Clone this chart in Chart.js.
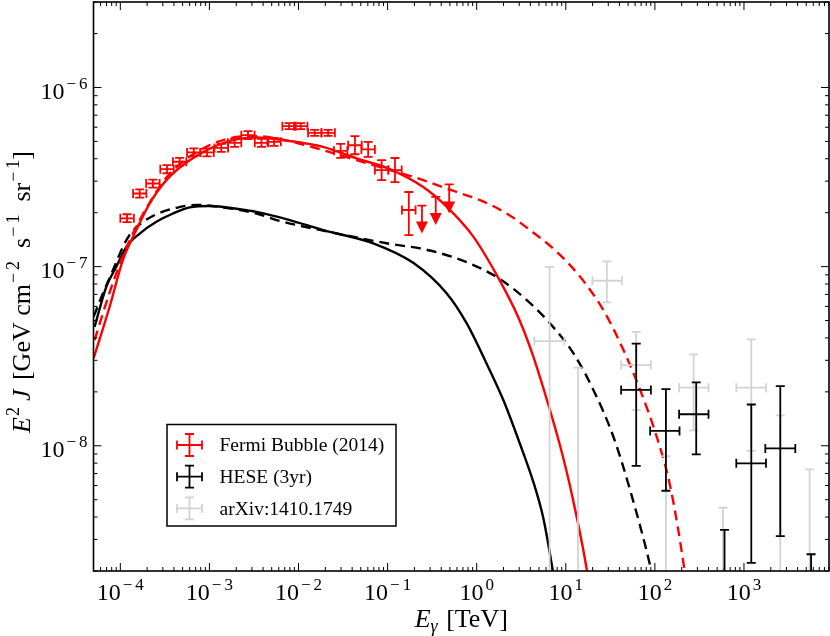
<!DOCTYPE html>
<html>
<head>
<meta charset="utf-8">
<script src="https://cdn.jsdelivr.net/npm/chart.js@4.4.0/dist/chart.umd.min.js"></script>
<style>
  html, body { margin: 0; padding: 0; background: #fff; }
  #wrap { width: 830px; height: 636px; position: relative; }
</style>
</head>
<body>
<div id="wrap"><canvas id="chart"></canvas></div>
<script>
// axis ranges and tick labels
const xRange = [5e-5, 9e3];
const yRange = [2e-9, 3e-6];
const xTickValues = [1e-4, 1e-3, 1e-2, 1e-1, 1e0, 1e1, 1e2, 1e3];
const xTickExps = ['-4', '-3', '-2', '-1', '0', '1', '2', '3'];
const yTickValues = [1e-8, 1e-7, 1e-6];
const yTickExps = ['-8', '-7', '-6'];

// model curves
const redSolidE = [5.01e-5, 7.59e-5, 1.07e-4, 1.51e-4, 2.13e-4, 3.29e-4, 6.01e-4, 1.69e-3, 3.37e-3, 7.98e-3, 1.89e-2, 4.49e-2, 0.106, 0.251, 0.460, 0.916, 1.73, 2.91, 4.18, 6.32, 8.63, 11.2, 17.3, 19.2];
const redSolidF = [3.08e-8, 5.97e-8, 1.09e-7, 1.60e-7, 2.25e-7, 3.04e-7, 3.93e-7, 5.03e-7, 5.26e-7, 5.03e-7, 4.66e-7, 4.02e-7, 3.50e-7, 2.78e-7, 2.16e-7, 1.47e-7, 8.73e-8, 5.25e-8, 3.30e-8, 1.72e-8, 1.00e-8, 5.90e-9, 2.00e-9, 1.38e-9];

const redDashE = [5.14e-5, 7.59e-5, 1.07e-4, 1.51e-4, 2.13e-4, 3.29e-4, 6.01e-4, 1.69e-3, 3.37e-3, 7.98e-3, 1.89e-2, 4.49e-2, 0.106, 0.194, 0.596, 1.09, 2.17, 3.97, 7.93, 14.5, 26.4, 44.4, 68.3, 105, 149, 215, 237];
const redDashF = [3.89e-8, 7.18e-8, 1.15e-7, 1.67e-7, 2.27e-7, 3.14e-7, 4.12e-7, 5.21e-7, 5.35e-7, 5.01e-7, 4.47e-7, 3.93e-7, 3.46e-7, 3.17e-7, 2.61e-7, 2.35e-7, 1.98e-7, 1.60e-7, 1.21e-7, 8.77e-8, 5.72e-8, 3.42e-8, 2.05e-8, 1.12e-8, 5.90e-9, 2.02e-9, 1.38e-9];

const blackSolidE = [5.14e-5, 6.96e-5, 9.01e-5, 1.17e-4, 1.65e-4, 2.54e-4, 3.90e-4, 6.01e-4, 1.01e-3, 2.19e-3, 3.37e-3, 7.98e-3, 1.89e-2, 6.89e-2, 0.194, 0.459, 0.773, 1.29, 1.99, 3.07, 4.32, 5.60, 7.14, 7.78];
const blackSolidF = [4.61e-8, 7.71e-8, 9.98e-8, 1.29e-7, 1.53e-7, 1.78e-7, 1.98e-7, 2.14e-7, 2.18e-7, 2.09e-7, 2.02e-7, 1.82e-7, 1.60e-7, 1.35e-7, 1.05e-7, 7.10e-8, 4.82e-8, 2.88e-8, 1.80e-8, 1.02e-8, 6.28e-9, 3.94e-9, 2.02e-9, 1.57e-9];

const blackDashE = [5.01e-5, 6.37e-5, 8.26e-5, 1.07e-4, 1.29e-4, 1.67e-4, 2.54e-4, 4.26e-4, 7.14e-4, 1.42e-3, 3.37e-3, 5.66e-3, 2.25e-2, 9.75e-2, 0.299, 0.842, 1.83, 3.65, 6.66, 12.2, 20.4, 34.3, 52.7, 91, 101];
const blackDashF = [5.25e-8, 7.08e-8, 9.55e-8, 1.29e-7, 1.52e-7, 1.73e-7, 1.96e-7, 2.13e-7, 2.21e-7, 2.14e-7, 1.98e-7, 1.82e-7, 1.56e-7, 1.35e-7, 1.23e-7, 1.04e-7, 8.51e-8, 6.50e-8, 4.82e-8, 3.28e-8, 2.05e-8, 1.12e-8, 5.66e-9, 2.02e-9, 1.57e-9];

// Fermi bubble spectrum (2014)
const fermiE = [1.19e-4, 1.65e-4, 2.32e-4, 3.34e-4, 4.63e-4, 6.67e-4, 9.40e-4, 1.36e-3, 1.92e-3, 2.71e-3, 3.84e-3, 5.32e-3, 7.84e-3, 1.06e-2, 1.52e-2, 2.15e-2, 2.97e-2, 4.30e-2, 6.05e-2, 8.57e-2, 0.121, 0.173];
const fermiELo = [1.00e-4, 1.39e-4, 1.95e-4, 2.81e-4, 3.89e-4, 5.61e-4, 7.90e-4, 1.14e-3, 1.61e-3, 2.28e-3, 3.23e-3, 4.47e-3, 6.59e-3, 8.91e-3, 1.28e-2, 1.81e-2, 2.50e-2, 3.61e-2, 5.08e-2, 7.20e-2, 0.102, 0.145];
const fermiEHi = [1.42e-4, 1.96e-4, 2.76e-4, 3.97e-4, 5.51e-4, 7.94e-4, 1.12e-3, 1.62e-3, 2.28e-3, 3.22e-3, 4.57e-3, 6.33e-3, 9.33e-3, 1.26e-2, 1.81e-2, 2.56e-2, 3.53e-2, 5.12e-2, 7.20e-2, 0.102, 0.144, 0.206];
const fermiF = [1.86e-7, 2.56e-7, 2.91e-7, 3.50e-7, 3.85e-7, 4.34e-7, 4.34e-7, 4.60e-7, 4.91e-7, 5.42e-7, 4.91e-7, 4.97e-7, 6.08e-7, 6.08e-7, 5.58e-7, 5.58e-7, 4.43e-7, 4.76e-7, 4.51e-7, 3.46e-7, 3.46e-7, 2.07e-7];
const fermiFLo = [1.77e-7, 2.43e-7, 2.76e-7, 3.32e-7, 3.66e-7, 4.12e-7, 4.12e-7, 4.37e-7, 4.66e-7, 5.15e-7, 4.66e-7, 4.72e-7, 5.85e-7, 5.85e-7, 5.37e-7, 5.37e-7, 4.05e-7, 4.24e-7, 4.10e-7, 3.04e-7, 2.96e-7, 1.50e-7];
const fermiFHi = [1.96e-7, 2.70e-7, 3.06e-7, 3.69e-7, 4.05e-7, 4.57e-7, 4.57e-7, 4.84e-7, 5.17e-7, 5.71e-7, 5.17e-7, 5.23e-7, 6.32e-7, 6.32e-7, 5.80e-7, 5.80e-7, 4.85e-7, 5.35e-7, 4.97e-7, 3.93e-7, 4.04e-7, 2.61e-7];
// upper limits: cap value and arrow tip
const fermiUlE = [0.243, 0.347, 0.491];
const fermiUlF = [2.19e-7, 2.45e-7, 2.88e-7];
const fermiUlTip = [1.53e-7, 1.71e-7, 1.98e-7];

// IceCube HESE 3yr
const heseE = [61.7, 133, 291, 605, 1208, 2556, 5663];
const heseELo = [41.8, 88.5, 187, 400, 820, 1735, 3767];
const heseEHi = [90.2, 189, 400, 820, 1767, 3767, 8200];
const heseF = [2.05e-8, 1.21e-8, 1.50e-8, 1.2e-9, 7.98e-9, 9.66e-9, 1.2e-9];
const heseFLo = [7.73e-9, 5.61e-9, 8.95e-9, 1e-10, 2.22e-9, 3.13e-9, 1e-10];
const heseFHi = [3.72e-8, 2.07e-8, 2.26e-8, 3.39e-9, 1.70e-8, 2.15e-8, 2.48e-9];

// arXiv:1410.1749
const arxE = [6.58, 13.7, 28.9, 61.7, 133, 272, 581, 1208, 2556, 5458];
const arxELo = [4.44, 9.6, 19.9, 41.8, 88.5, 187, 400, 820, 1767, 3767];
const arxEHi = [9.64, 19.9, 42.6, 90.2, 189, 400, 820, 1767, 3767, 8200];
const arxF = [3.84e-8, 1.2e-9, 8.34e-8, 2.82e-8, 1.2e-9, 2.11e-8, 1.2e-9, 2.11e-8, 1.2e-9, 1.2e-9];
const arxFLo = [1e-10, 1e-10, 6.31e-8, 1.58e-8, 1e-10, 1.22e-8, 1e-10, 9.37e-9, 1e-10, 1e-10];
const arxFHi = [9.98e-8, 2.73e-8, 1.07e-7, 4.32e-8, 8.75e-9, 3.24e-8, 4.51e-9, 3.93e-8, 1.48e-8, 7.38e-9];

const legendLabels = ['Fermi Bubble (2014)', 'HESE (3yr)', 'arXiv:1410.1749'];

const RED = '#ff0000';
const GREY = '#d3d3d3';
const SERIF = '"Liberation Serif", "DejaVu Serif", serif';

const toXY = (xs, ys) => xs.map((x, i) => ({ x, y: ys[i] }));

function curve(xs, ys, color, dashed) {
    return {
        type: 'line',
        data: toXY(xs, ys),
        borderColor: color,
        borderWidth: 2.4,
        borderDash: dashed ? [10, 6] : [],
        pointRadius: 0,
        cubicInterpolationMode: 'monotone',
        clip: 0
    };
}

function points(xs, ys, extra, color) {
    return {
        type: 'scatter',
        data: xs.map((x, i) => ({
            x, y: ys[i],
            xMin: extra.xLo[i], xMax: extra.xHi[i],
            yMin: extra.yLo[i], yMax: extra.yHi[i]
        })),
        borderColor: color,
        backgroundColor: color,
        pointRadius: 0,
        errorBars: true
    };
}

// draws error bars and upper-limit arrows from the scatter datasets
const errorBarPlugin = {
    id: 'errorBarPlugin',
    afterDatasetsDraw(chart) {
        const { ctx, chartArea: a, scales: { x, y } } = chart;
        const cap = 4.5;
        ctx.save();
        ctx.beginPath();
        ctx.rect(a.left, a.top, a.right - a.left, a.bottom - a.top);
        ctx.clip();
        ctx.lineWidth = 1.8;
        chart.data.datasets.forEach(ds => {
            if (!ds.errorBars && !ds.upperLimits) return;
            ctx.strokeStyle = ds.borderColor;
            ctx.fillStyle = ds.borderColor;
            ds.data.forEach(p => {
                const px = x.getPixelForValue(p.x);
                const py = y.getPixelForValue(p.y);
                if (ds.upperLimits) {
                    const tip = y.getPixelForValue(p.tip);
                    ctx.beginPath();
                    ctx.moveTo(px - cap, py); ctx.lineTo(px + cap, py);
                    ctx.moveTo(px, py); ctx.lineTo(px, tip - 10);
                    ctx.stroke();
                    ctx.beginPath();
                    ctx.moveTo(px - 6, tip - 12); ctx.lineTo(px + 6, tip - 12); ctx.lineTo(px, tip);
                    ctx.closePath();
                    ctx.fill();
                    return;
                }
                const x0 = x.getPixelForValue(p.xMin), x1 = x.getPixelForValue(p.xMax);
                const y0 = y.getPixelForValue(p.yMin), y1 = y.getPixelForValue(p.yMax);
                ctx.beginPath();
                ctx.moveTo(x0, py); ctx.lineTo(x1, py);
                ctx.moveTo(x0, py - cap); ctx.lineTo(x0, py + cap);
                ctx.moveTo(x1, py - cap); ctx.lineTo(x1, py + cap);
                ctx.moveTo(px, y0); ctx.lineTo(px, y1);
                ctx.moveTo(px - cap, y0); ctx.lineTo(px + cap, y0);
                ctx.moveTo(px - cap, y1); ctx.lineTo(px + cap, y1);
                ctx.stroke();
            });
        });
        ctx.restore();
    }
};

function drawRuns(ctx, runs, x, y, align) {
    let total = 0;
    runs.forEach(r => { ctx.font = r.font; r.w = ctx.measureText(r.t).width; total += r.w + (r.gap || 0); });
    let cx = align === 'center' ? x - total / 2 : align === 'right' ? x - total : x;
    ctx.textAlign = 'left';
    ctx.textBaseline = 'alphabetic';
    runs.forEach(r => {
        ctx.font = r.font;
        ctx.fillText(r.t, cx, y + (r.dy || 0));
        cx += r.w + (r.gap || 0);
    });
}

// superscript runs: mathtext puts a little space round the minus sign
function supRuns(exp, font, dy) {
    if (exp[0] === '-') {
        return [{ t: '\u2212', font, dy, gap: 3 }, { t: exp.slice(1), font, dy }];
    }
    return [{ t: exp, font, dy }];
}

const tickFont = `24px ${SERIF}`;
const tickSup = `17px ${SERIF}`;
const titleFont = `26px ${SERIF}`;
const titleIt = `italic 26px ${SERIF}`;
const titleSup = `18px ${SERIF}`;
const powRuns = e => [{ t: '10', font: tickFont, gap: 2 }, ...supRuns(e, tickSup, -10)];

// frame, inward ticks, tick labels, axis titles, legend
const framePlugin = {
    id: 'framePlugin',
    afterDraw(chart) {
        const { ctx, chartArea: a, scales: { x, y } } = chart;
        ctx.save();
        ctx.strokeStyle = '#000';
        ctx.fillStyle = '#000';

        // ticks
        ctx.lineWidth = 1;
        const tick = (px, len, horiz) => {
            ctx.beginPath();
            if (horiz) {
                ctx.moveTo(px, a.bottom); ctx.lineTo(px, a.bottom - len);
                ctx.moveTo(px, a.top); ctx.lineTo(px, a.top + len);
            } else {
                ctx.moveTo(a.left, px); ctx.lineTo(a.left + len, px);
                ctx.moveTo(a.right, px); ctx.lineTo(a.right - len, px);
            }
            ctx.stroke();
        };
        for (let d = -5; d <= 3; d++) {
            for (let k = 1; k <= 9; k++) {
                const v = k * Math.pow(10, d);
                if (v < xRange[0] || v > xRange[1]) continue;
                tick(x.getPixelForValue(v), k === 1 ? 8 : 4, true);
            }
        }
        for (let d = -9; d <= -6; d++) {
            for (let k = 1; k <= 9; k++) {
                const v = k * Math.pow(10, d);
                if (v < yRange[0] || v > yRange[1]) continue;
                tick(y.getPixelForValue(v), k === 1 ? 8 : 4, false);
            }
        }

        ctx.lineWidth = 1.6;
        ctx.strokeRect(a.left, a.top, a.right - a.left, a.bottom - a.top);

        // tick labels
        xTickValues.forEach((v, i) => drawRuns(ctx, powRuns(xTickExps[i]), x.getPixelForValue(v), a.bottom + 29, 'center'));
        yTickValues.forEach((v, i) => drawRuns(ctx, powRuns(yTickExps[i]), a.left - 6, y.getPixelForValue(v) + 11.5, 'right'));

        // axis titles
        drawRuns(ctx, [
            { t: 'E', font: titleIt },
            { t: '\u03b3', font: `italic 18px ${SERIF}`, dy: 5, gap: 2 },
            { t: ' [TeV]', font: titleFont }
        ], (a.left + a.right) / 2, 627, 'center');

        ctx.save();
        ctx.translate(30, 292);
        ctx.rotate(-Math.PI / 2);
        drawRuns(ctx, [
            { t: 'E', font: titleIt, gap: 1 },
            { t: '2', font: titleSup, dy: -11, gap: 6 },
            { t: 'J', font: titleIt, gap: 3 },
            { t: ' [GeV cm', font: titleFont, gap: 1 },
            ...supRuns('-2', titleSup, -11),
            { t: '  s', font: titleFont, gap: 1 },
            ...supRuns('-1', titleSup, -11),
            { t: '  sr', font: titleFont, gap: 1 },
            ...supRuns('-1', titleSup, -11),
            { t: ']', font: titleFont }
        ], 0, 0, 'center');
        ctx.restore();

        // legend box
        const lx = 167, ly = 424.5, lw = 229, lh = 101.5;
        ctx.fillStyle = '#fff';
        ctx.fillRect(lx, ly, lw, lh);
        ctx.lineWidth = 1.5;
        ctx.strokeStyle = '#000';
        ctx.strokeRect(lx, ly, lw, lh);
        const colors = [RED, '#000', GREY];
        legendLabels.forEach((label, i) => {
            const cy = 445 + i * 31.7;
            const cx = 189.5;
            ctx.strokeStyle = colors[i];
            ctx.lineWidth = 1.8;
            ctx.beginPath();
            ctx.moveTo(cx - 12.5, cy); ctx.lineTo(cx + 12.5, cy);
            ctx.moveTo(cx - 12.5, cy - 4.5); ctx.lineTo(cx - 12.5, cy + 4.5);
            ctx.moveTo(cx + 12.5, cy - 4.5); ctx.lineTo(cx + 12.5, cy + 4.5);
            ctx.moveTo(cx, cy - 11); ctx.lineTo(cx, cy + 11);
            ctx.moveTo(cx - 4.5, cy - 11); ctx.lineTo(cx + 4.5, cy - 11);
            ctx.moveTo(cx - 4.5, cy + 11); ctx.lineTo(cx + 4.5, cy + 11);
            ctx.stroke();
            ctx.fillStyle = '#000';
            ctx.font = `19.5px ${SERIF}`;
            ctx.textAlign = 'left';
            ctx.textBaseline = 'middle';
            ctx.fillText(label, 219.5, cy + 1);
        });
        ctx.restore();
    }
};

const datasets = [
    curve(redSolidE, redSolidF, RED, false),
    curve(redDashE, redDashF, RED, true),
    curve(blackSolidE, blackSolidF, '#000', false),
    curve(blackDashE, blackDashF, '#000', true),
    points(arxE, arxF, { xLo: arxELo, xHi: arxEHi, yLo: arxFLo, yHi: arxFHi }, GREY),
    points(heseE, heseF, { xLo: heseELo, xHi: heseEHi, yLo: heseFLo, yHi: heseFHi }, '#000'),
    points(fermiE, fermiF, { xLo: fermiELo, xHi: fermiEHi, yLo: fermiFLo, yHi: fermiFHi }, RED),
    {
        type: 'scatter',
        data: fermiUlE.map((x, i) => ({ x, y: fermiUlF[i], tip: fermiUlTip[i] })),
        borderColor: RED,
        pointRadius: 0,
        upperLimits: true
    }
];

new Chart(document.getElementById('chart'), {
    type: 'line',
    data: { datasets },
    options: {
        responsive: true,
        maintainAspectRatio: false,
        animation: false,
        devicePixelRatio: 1,
        layout: { padding: { left: 93.5, right: 1, top: 2, bottom: 65 } },
        plugins: { legend: { display: false }, tooltip: { enabled: false } },
        scales: {
            x: { type: 'logarithmic', min: xRange[0], max: xRange[1], display: false },
            y: { type: 'logarithmic', min: yRange[0], max: yRange[1], display: false }
        }
    },
    plugins: [errorBarPlugin, framePlugin]
});
</script>
</body>
</html>
